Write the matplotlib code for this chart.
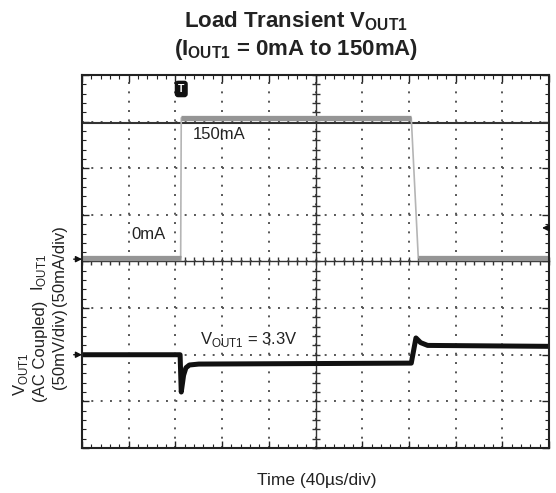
import numpy as np
import matplotlib.pyplot as plt
from matplotlib.ticker import MultipleLocator

plt.rcParams['font.family'] = ['Liberation Sans', 'DejaVu Sans']
plt.rcParams['mathtext.fontset'] = 'custom'
plt.rcParams['mathtext.rm'] = 'Liberation Sans'
plt.rcParams['mathtext.bf'] = 'Liberation Sans:bold'

# scope settings
t_div = 40      # us/div
i_div = 50      # mA/div
v_div = 50      # mV/div
i_ref = 4.08    # 0mA position (divisions from bottom)
v_ref = 2.0     # AC coupled 0mV position
trig_level = 32 # mA

# load current
t_iout = [0, 84.5, 85, 282, 288, 400]
iout = [0, 0, 150, 150, 0, 0]

# output voltage deviation (AC coupled)
t_vout = [0, 84, 85, 87, 89, 92, 100, 282, 286, 290, 296, 400]
vout = [0, 0, -40, -22, -14, -11, -10, -9, 18, 13, 10, 9]

y_i = i_ref + np.array(iout) / i_div
y_v = v_ref + np.array(vout) / v_div

fig = plt.figure(figsize=(5.56, 4.93), dpi=100)
pos = [0.1475, 0.0913, 0.84, 0.7566]

# overlay axes for the centre graticule with ticks
ax2 = fig.add_axes(pos)
ax2.set_xlim(0, 10 * t_div)
ax2.set_ylim(0, 8)
ax2.spines['left'].set_position(('data', 5 * t_div))
ax2.spines['bottom'].set_position(('data', 4))
ax2.spines['top'].set_visible(False)
ax2.spines['right'].set_visible(False)
for s in ['left', 'bottom']:
    ax2.spines[s].set_color('#333333')
    ax2.spines[s].set_linewidth(1.0)
ax2.xaxis.set_major_locator(MultipleLocator(t_div))
ax2.xaxis.set_minor_locator(MultipleLocator(t_div / 5))
ax2.yaxis.set_major_locator(MultipleLocator(1))
ax2.yaxis.set_minor_locator(MultipleLocator(0.2))
ax2.tick_params(which='both', direction='inout', length=6, width=1.0,
                color='#333333', labelbottom=False, labelleft=False)
ax2.grid(which='major', color='#555555', linestyle=(0, (1, 3.8)), lw=1.4)
ax2.set_zorder(0)

ax = fig.add_axes(pos)
ax.set_zorder(1)
ax.patch.set_visible(False)
ax.set_xlim(0, 10 * t_div)
ax.set_ylim(0, 8)
ax.xaxis.set_major_locator(MultipleLocator(t_div))
ax.xaxis.set_minor_locator(MultipleLocator(t_div / 5))
ax.yaxis.set_major_locator(MultipleLocator(1))
ax.yaxis.set_minor_locator(MultipleLocator(0.2))
ax.tick_params(which='both', direction='in', top=True, right=True,
               labelbottom=False, labelleft=False, color='#222222')
ax.tick_params(which='major', length=5, width=1)
ax.tick_params(which='minor', length=3, width=0.8)
for s in ax.spines.values():
    s.set_linewidth(1.5)
    s.set_color('#222222')

# cursor at 150mA
ax.axhline(i_ref + 3 - 0.1, color='#333333', lw=1.5)

# current trace: thin edges, thick noisy flat levels
ax.plot(t_iout, y_i, color='#b5b5b5', lw=1.2)
for k in range(len(t_iout) - 1):
    if iout[k] == iout[k + 1]:
        ax.plot(t_iout[k:k + 2], y_i[k:k + 2], color='#959595', lw=3.8,
                solid_capstyle='butt')

# voltage trace
ax.plot(t_vout, y_v, color='#111111', lw=3.6, solid_capstyle='butt')

# channel markers
for yref in [i_ref - 0.03, v_ref]:
    ax.annotate('', xy=(0, yref), xytext=(-6, 0), textcoords='offset points',
                annotation_clip=False,
                arrowprops=dict(arrowstyle='-|>', color='#111111', lw=1,
                                mutation_scale=9, shrinkA=0, shrinkB=0))
ax.annotate('', xy=(t_div * 9.85, i_ref + trig_level / i_div), xytext=(5, 0),
            textcoords='offset points', annotation_clip=False,
            arrowprops=dict(arrowstyle='-|>', color='#111111', lw=1,
                            mutation_scale=10, shrinkA=0, shrinkB=0))
ax.text(t_iout[2], 7.7, 'T', color='white', fontsize=7.5, fontweight='bold',
        ha='center', va='center',
        bbox=dict(boxstyle='round,pad=0.25', fc='#111111', ec='#111111'))

ax.text(95, 6.72, '150mA', fontsize=12, va='center', ha='left', color='#222222')
ax.text(42, 4.57, '0mA', fontsize=12, va='center', ha='left', color='#222222')
ax.text(101, 2.32, r'V$_{\mathrm{OUT1}}$ = 3.3V', fontsize=12, va='center',
        ha='left', color='#222222')

# left channel labels
W, H = 556, 493
def ftxt(x, y, s, **kw):
    fig.text(x / W, 1 - y / H, s, rotation=90, ha='center', va='center',
             fontsize=12, color='#222222', **kw)

ftxt(21, 374, r'V$_{\mathrm{OUT1}}$')
ftxt(40, 351, '(AC Coupled)')
ftxt(60, 349, '(50mV/div)')
ftxt(38, 272, r'I$_{\mathrm{OUT1}}$')
ftxt(59, 266, '(50mA/div)')

fig.text(296 / W, 1 - 21 / H, r'Load Transient V$_{\mathbf{OUT1}}$',
         ha='center', va='center', fontsize=16, fontweight='bold', color='#222222')
fig.text(296 / W, 1 - 49 / H, r'(I$_{\mathbf{OUT1}}$ = 0mA to 150mA)',
         ha='center', va='center', fontsize=16, fontweight='bold', color='#222222')
fig.text(317 / W, 1 - 480 / H, 'Time (40µs/div)', ha='center', va='center',
         fontsize=12.5, color='#222222')

fig.savefig('out.png', dpi=100, facecolor='white')
